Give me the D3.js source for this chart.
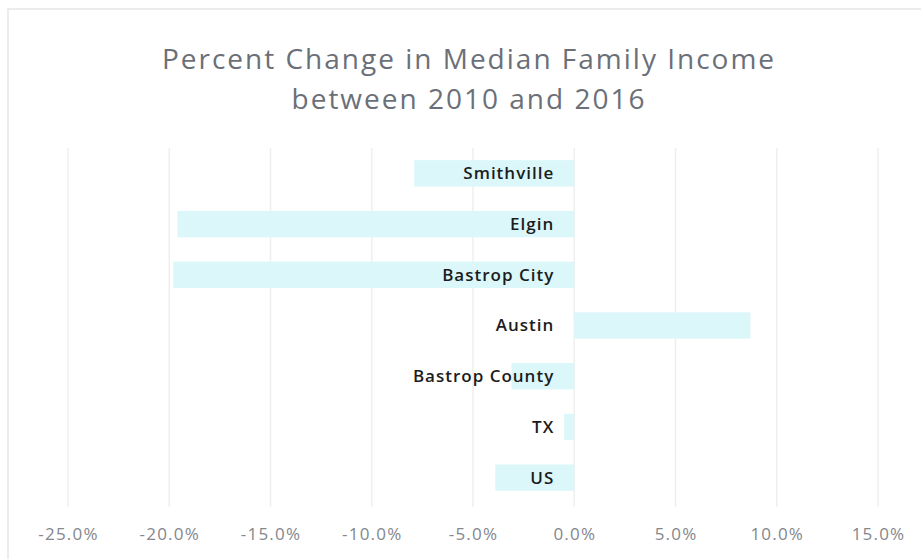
<!DOCTYPE html>
<html>
<head>
<meta charset="utf-8">
<script src="https://cdn.jsdelivr.net/npm/d3@7"></script>
<style>
  body { margin: 0; background: #fff; }
  svg { display: block; }
</style>
</head>
<body>
<div id="chart"></div>
<script>
// data
var categories = ["Smithville", "Elgin", "Bastrop City", "Austin", "Bastrop County", "TX", "US"];
var values = [-7.9, -19.6, -19.8, 8.7, -3.1, -0.5, -3.9];
var tickValues = [-25, -20, -15, -10, -5, 0, 5, 10, 15];
var titleLines = ["Percent Change in Median Family Income", "between 2010 and 2016"];

var w = 921;
var h = 559;

var svg = d3.select("#chart")
            .append("svg")
            .attr("width", w)
            .attr("height", h);

// faint chart border
svg.append("path")
   .attr("d", "M8,559 L8,9 L921,9")
   .attr("fill", "none")
   .attr("stroke", "#e6e6e6")
   .attr("stroke-width", 1.5);

var x = d3.scaleLinear()
          .domain([-25, 15])
          .range([68, 878]);

var y = d3.scaleBand()
          .domain(categories)
          .range([148, 503])
          .paddingInner(0.48)
          .paddingOuter(0.24);

// title
svg.append("g")
   .selectAll("text")
   .data(titleLines)
   .enter()
   .append("text")
   .attr("x", 469)
   .attr("y", function(d, i) { return 69 + i * 40; })
   .attr("text-anchor", "middle")
   .attr("font-family", "'Open Sans', sans-serif")
   .attr("font-size", 28)
   .attr("letter-spacing", 2)
   .attr("fill", "#6b7078")
   .text(function(d) { return d; });

// vertical gridlines
svg.append("g")
   .selectAll("line")
   .data(tickValues)
   .enter()
   .append("line")
   .attr("x1", function(d) { return x(d); })
   .attr("x2", function(d) { return x(d); })
   .attr("y1", 148)
   .attr("y2", 507)
   .attr("stroke", "#efefef")
   .attr("stroke-width", 1.5);

// bars
svg.append("g")
   .selectAll("rect")
   .data(values)
   .enter()
   .append("rect")
   .attr("x", function(d) { return x(Math.min(0, d)); })
   .attr("width", function(d) { return Math.abs(x(d) - x(0)); })
   .attr("y", function(d, i) { return y(categories[i]); })
   .attr("height", y.bandwidth())
   .attr("fill", "#dbf7fa");

// category labels, right aligned just left of zero
svg.append("g")
   .selectAll("text")
   .data(categories)
   .enter()
   .append("text")
   .attr("x", x(0) - 20)
   .attr("y", function(d) { return y(d) + y.bandwidth() / 2; })
   .attr("dy", "0.35em")
   .attr("text-anchor", "end")
   .attr("font-family", "'Open Sans', sans-serif")
   .attr("font-weight", 600)
   .attr("font-size", 17)
   .attr("letter-spacing", 1)
   .attr("fill", "#1c1c1c")
   .text(function(d) { return d; });

// x axis tick labels
var xAxis = d3.axisBottom(x)
              .tickValues(tickValues)
              .tickSize(0)
              .tickPadding(0)
              .tickFormat(function(d) { return d.toFixed(1) + "%"; });

var axisG = svg.append("g")
               .attr("transform", "translate(0,528)")
               .call(xAxis);

axisG.select(".domain").remove();
axisG.selectAll("text")
     .attr("font-family", "'Open Sans', sans-serif")
     .attr("font-size", 17)
     .attr("letter-spacing", 1.2)
     .attr("fill", "#84878c");
</script>
</body>
</html>
